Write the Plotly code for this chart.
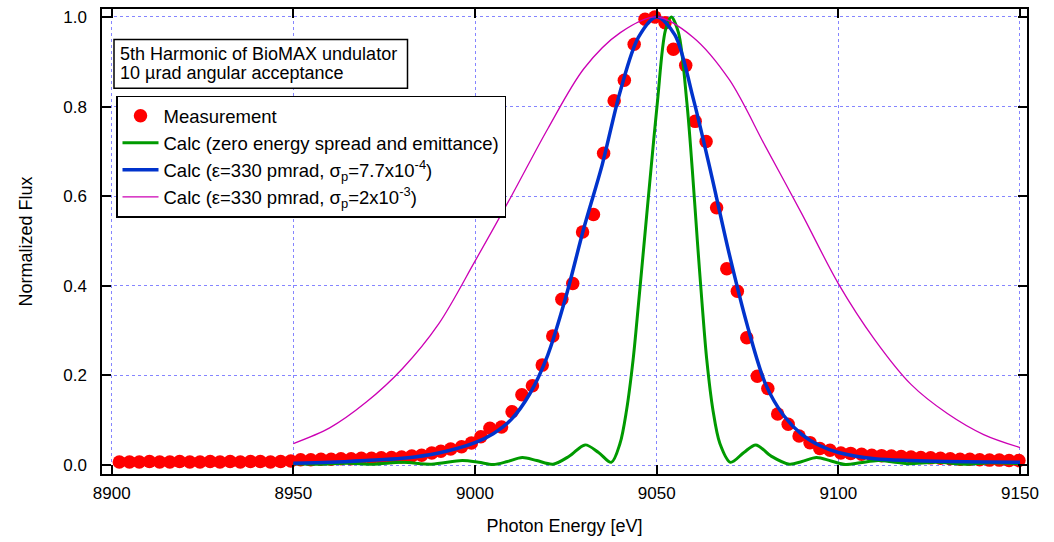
import plotly.graph_objects as go

# ---------------- data ----------------
meas_energy = [8902.1, 8904.9, 8907.6, 8910.4, 8913.2, 8916.0, 8918.7, 8921.5, 8924.3, 8927.1,
               8929.8, 8932.6, 8935.4, 8938.2, 8940.9, 8943.7, 8946.5, 8949.3, 8952.0, 8954.8,
               8957.6, 8960.4, 8963.1, 8965.9, 8968.7, 8971.5, 8974.2, 8977.0, 8979.8, 8982.6,
               8985.3, 8988.1, 8990.6, 8993.3, 8996.3, 8999.0, 9001.6, 9004.1, 9007.3, 9010.2,
               9012.9, 9015.8, 9018.5, 9021.4, 9023.9, 9026.9, 9029.6, 9032.6, 9035.4, 9038.3,
               9041.1, 9043.8, 9046.8, 9049.5, 9052.3, 9054.6, 9058.0, 9060.6, 9063.6, 9066.5,
               9069.3, 9072.2, 9074.8, 9077.7, 9080.6, 9083.3, 9086.2, 9089.2, 9092.2, 9094.9,
               9097.7, 9100.7, 9103.4, 9106.4, 9109.2, 9111.9, 9114.6, 9117.3, 9120.0, 9122.7,
               9125.4, 9128.1, 9130.8, 9133.5, 9136.2, 9138.9, 9141.6, 9144.3, 9147.0, 9149.7]
meas_flux = [0.007, 0.007, 0.007, 0.008, 0.007, 0.007, 0.008, 0.007, 0.007, 0.008,
             0.007, 0.008, 0.007, 0.008, 0.008, 0.007, 0.008, 0.009, 0.012, 0.012,
             0.013, 0.013, 0.014, 0.014, 0.015, 0.015, 0.016, 0.017, 0.018, 0.020,
             0.022, 0.027, 0.031, 0.036, 0.041, 0.049, 0.063, 0.082, 0.085, 0.119,
             0.157, 0.177, 0.223, 0.288, 0.370, 0.405, 0.520, 0.559, 0.696, 0.813,
             0.859, 0.939, 0.995, 1.000, 0.987, 0.928, 0.892, 0.767, 0.722, 0.574,
             0.438, 0.388, 0.284, 0.198, 0.171, 0.114, 0.091, 0.065, 0.050, 0.037,
             0.033, 0.027, 0.026, 0.024, 0.022, 0.021, 0.020, 0.019, 0.018, 0.017,
             0.016, 0.015, 0.014, 0.013, 0.013, 0.012, 0.011, 0.011, 0.010, 0.010]

green_energy = [8950, 8957, 8965, 8972, 8980, 8988, 8996.5, 9001, 9005, 9009, 9013, 9017,
                9021.5, 9026, 9030.3, 9034, 9037.5, 9039.9, 9041.7, 9043.5, 9045.0, 9046.6,
                9048.2, 9050.2, 9052.4, 9054.0, 9056.0, 9058.3, 9059.8, 9061.2, 9062.5,
                9063.8, 9065.5, 9067.4, 9070.3, 9074.0, 9077.3, 9081.5, 9086.5, 9090, 9094,
                9098, 9102, 9106, 9111, 9115, 9119, 9127, 9135, 9142, 9150]
green_flux = [0.003, 0.002, 0.004, 0.002, 0.006, 0.002, 0.010, 0.006, 0.001, 0.008, 0.017, 0.010,
              0.002, 0.020, 0.045, 0.028, 0.006, 0.048, 0.122, 0.234, 0.360, 0.500,
              0.640, 0.810, 0.970, 1.000, 0.965, 0.810, 0.660, 0.500, 0.360,
              0.234, 0.122, 0.048, 0.006, 0.028, 0.045, 0.020, 0.002, 0.008, 0.017,
              0.009, 0.001, 0.005, 0.010, 0.007, 0.003, 0.006, 0.002, 0.005, 0.003]

blue_energy = [8950, 8960, 8970, 8980, 8990, 9000, 9005, 9010, 9015, 9020, 9025, 9030, 9035,
               9040, 9045, 9050, 9055, 9060, 9065, 9070, 9075, 9080, 9085, 9090, 9095, 9100,
               9110, 9120, 9130, 9140, 9150]
blue_flux = [0.004, 0.006, 0.010, 0.015, 0.027, 0.050, 0.070, 0.102, 0.158, 0.245, 0.375, 0.530,
             0.670, 0.835, 0.955, 1.000, 0.960, 0.820, 0.650, 0.470, 0.310, 0.180, 0.110,
             0.068, 0.043, 0.028, 0.014, 0.010, 0.008, 0.007, 0.006]

mag_energy = [8950, 8960, 8970, 8980, 8990, 9000, 9010, 9020, 9030, 9040, 9050, 9060, 9070,
              9080, 9090, 9100, 9110, 9120, 9130, 9140, 9150]
mag_flux = [0.048, 0.083, 0.140, 0.215, 0.315, 0.455, 0.600, 0.750, 0.885, 0.965, 1.000,
            0.955, 0.860, 0.710, 0.560, 0.405, 0.280, 0.180, 0.115, 0.068, 0.039]

x_ticks = [8900, 8950, 9000, 9050, 9100, 9150]
y_ticks = [0.0, 0.2, 0.4, 0.6, 0.8, 1.0]

names = ["Measurement",
         "Calc (zero energy spread and emittance)",
         "Calc (ε=330 pmrad, σ<sub>p</sub>=7.7x10<sup>-4</sup>)",
         "Calc (ε=330 pmrad, σ<sub>p</sub>=2x10<sup>-3</sup>)"]

FONT = "Liberation Sans, Arial, sans-serif"
GRID = "rgba(120,120,255,0.9)"

fig = go.Figure()
fig.add_trace(go.Scatter(x=meas_energy, y=meas_flux, mode="markers", name=names[0],
                         marker=dict(color="#ff0000", size=13.5, line=dict(width=0))))
fig.add_trace(go.Scatter(x=green_energy, y=green_flux, mode="lines", name=names[1],
                         line=dict(color="#009a00", width=3, shape="spline", smoothing=0.9)))
fig.add_trace(go.Scatter(x=blue_energy, y=blue_flux, mode="lines", name=names[2],
                         line=dict(color="#0033cc", width=3.5, shape="spline", smoothing=0.9)))
fig.add_trace(go.Scatter(x=mag_energy, y=mag_flux, mode="lines", name=names[3],
                         line=dict(color="#cc00b4", width=1.3, shape="spline", smoothing=0.9)))

axis_common = dict(showline=True, linecolor="black", linewidth=1.5, mirror="ticks",
                   ticks="inside", ticklen=9, tickwidth=1.5, tickcolor="black",
                   showgrid=True, gridcolor=GRID, griddash="dot", gridwidth=1,
                   zeroline=False, tickfont=dict(family=FONT, size=17, color="black"))

fig.update_xaxes(range=[8897.33, 9151.93], tickvals=x_ticks,
                 ticktext=[str(v) for v in x_ticks], ticklabelstandoff=3,
                 title=dict(text="Photon Energy [eV]", font=dict(family=FONT, size=18, color="black"),
                            standoff=17),
                 **axis_common)
fig.update_yaxes(range=[-0.02, 1.0178], tickvals=y_ticks,
                 ticktext=[f"{v:.1f}" for v in y_ticks], ticklabelstandoff=10,
                 title=dict(text="Normalized Flux", font=dict(family=FONT, size=18, color="black"),
                            standoff=26),
                 **axis_common)

# annotation box (paper coords of the plot area)
L, R, T, B = 102, 1027, 7, 474
def px(xp):
    return (xp - L) / (R - L)
def py(yp):
    return (B - yp) / (B - T)

fig.add_shape(type="rect", xref="paper", yref="paper",
              x0=px(114), x1=px(407.5), y0=py(86.7), y1=py(37.7),
              line=dict(color="black", width=1.5), fillcolor="white", layer="above")
fig.add_annotation(xref="paper", yref="paper", x=px(118), y=py(51.7), xanchor="left",
                   yanchor="middle", showarrow=False, text="5th Harmonic of BioMAX undulator",
                   font=dict(family=FONT, size=18, color="black"))
fig.add_annotation(xref="paper", yref="paper", x=px(118), y=py(71.7), xanchor="left",
                   yanchor="middle", showarrow=False, text="10 µrad angular acceptance",
                   font=dict(family=FONT, size=18, color="black"))

fig.update_layout(
    width=1054, height=542, autosize=False,
    margin=dict(l=L, r=1054 - R, t=T, b=542 - B),
    plot_bgcolor="white", paper_bgcolor="white",
    font=dict(family=FONT, color="black"),
    legend=dict(x=px(116), y=py(94), xanchor="left", yanchor="top",
                bgcolor="white", bordercolor="black", borderwidth=1.5,
                font=dict(family=FONT, size=18.5, color="black"),
                tracegroupgap=0, itemwidth=36),
    showlegend=True,
)

fig.write_html("out.html")
